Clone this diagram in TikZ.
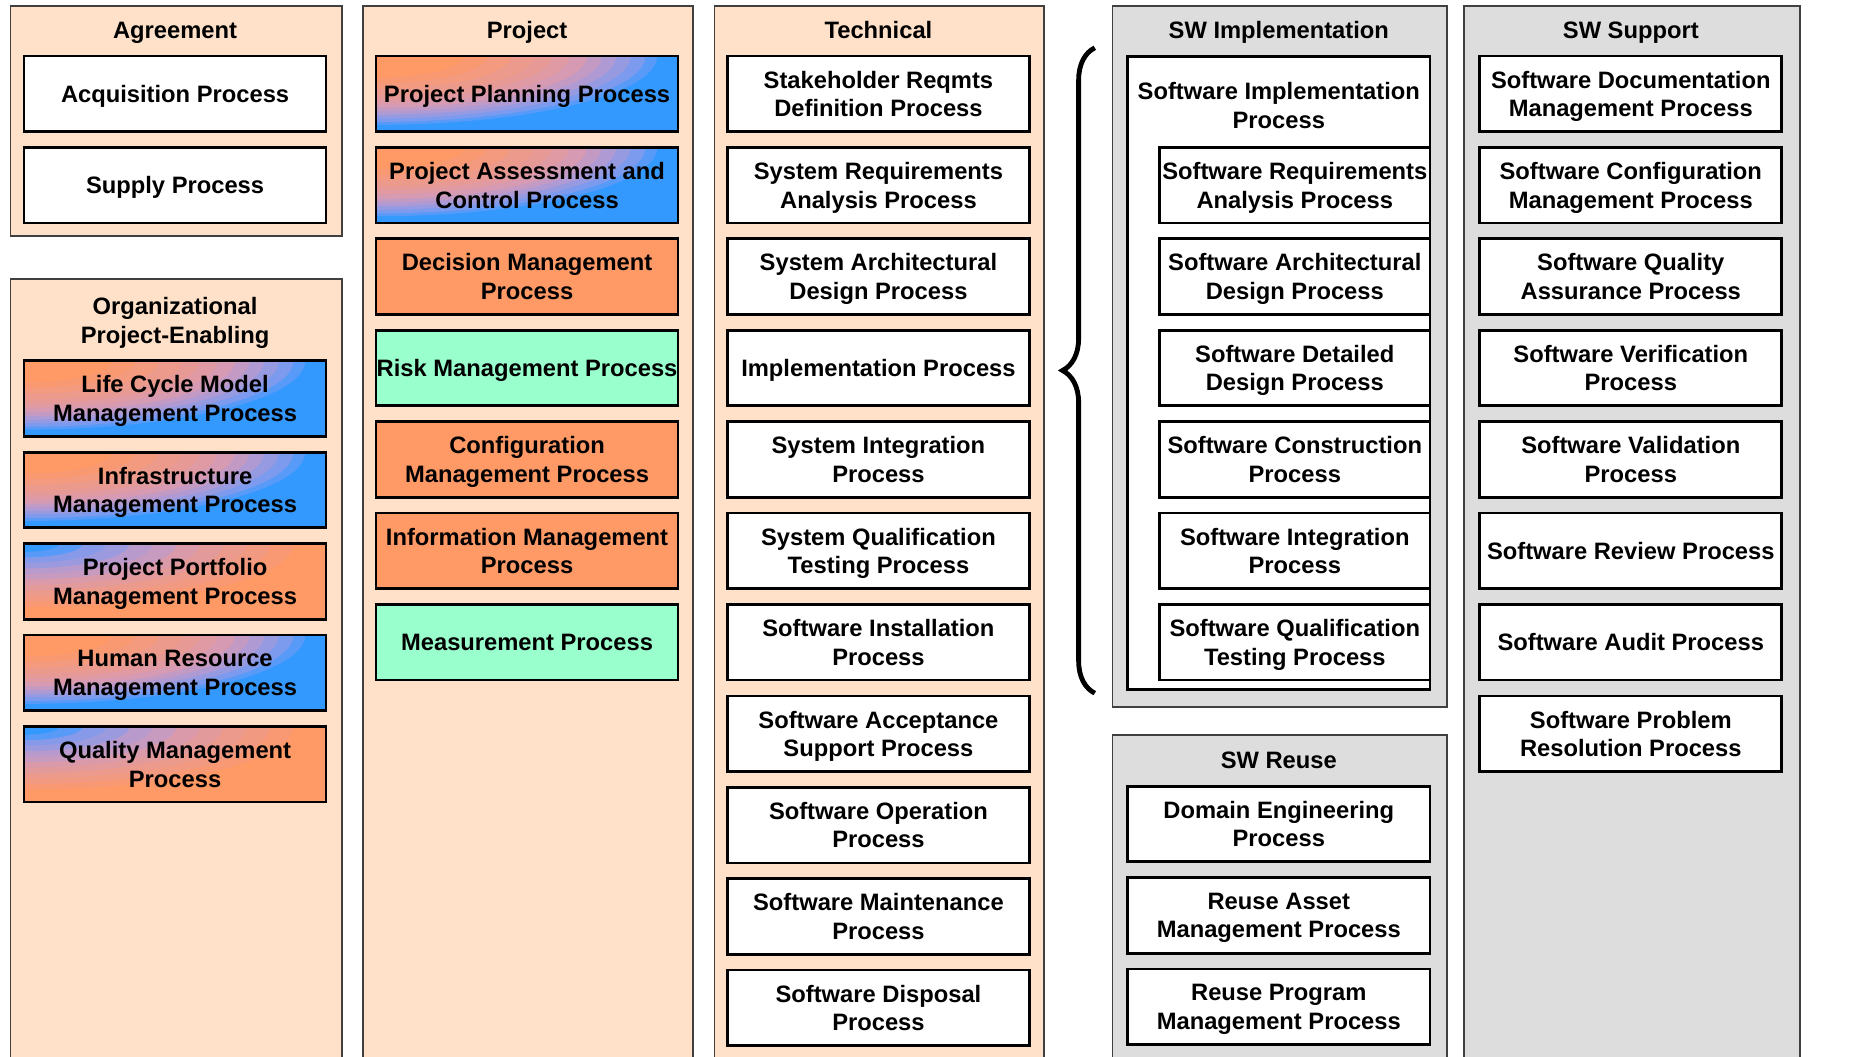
\documentclass[tikz,border=0pt]{standalone}
\usepackage{fontspec}
\setmainfont{Liberation Sans}
\usepackage{xcolor}
\usetikzlibrary{positioning,decorations.pathreplacing}
\definecolor{peach}{HTML}{FEE1C8}
\definecolor{panelgray}{HTML}{DDDDDD}
\definecolor{procorange}{HTML}{FF9966}
\definecolor{procblue}{HTML}{3399FF}
\definecolor{procgreen}{HTML}{99FFCC}
\definecolor{salmonmid}{HTML}{EC9A8C}
\definecolor{mauvemid}{HTML}{D69AB2}
\definecolor{lavmid}{HTML}{B09AD4}
\definecolor{skymid}{HTML}{7C9AEE}

\begin{document}
\begin{tikzpicture}[node distance=0.219cm,
    font=\fontsize{11.3}{13.6}\selectfont\bfseries,
    panel/.style={draw=black!75,line width=0.9pt,anchor=north west,inner sep=0pt},
    heading/.style={text depth=0pt,align=center},
    proc/.style={draw,line width=1.3pt,fill=white,minimum width=5.055cm,
      minimum height=1.265cm,inner sep=0pt,align=center,text depth=0pt},
    orangeproc/.style={proc,fill=procorange},
    greenproc/.style={proc,fill=procgreen},
    % orange in the top left corner, fading to blue
    warmcorner/.style={proc,fill=procblue,path picture={
        \foreach \r/\hue in {0.96/skymid!50!procblue,0.92/skymid,0.87/lavmid!50!skymid,
            0.82/lavmid,0.77/mauvemid!50!lavmid,0.72/mauvemid,0.66/salmonmid!40!mauvemid,
            0.60/salmonmid!75!mauvemid,0.54/salmonmid,0.46/procorange!35!salmonmid,
            0.38/procorange!70!salmonmid,0.30/procorange}
          \fill[\hue] (path picture bounding box.north west)
            ellipse [x radius={4.9cm*\r},y radius={1.2cm*\r}];}},
    % blue in the top left corner, fading to orange
    coolcorner/.style={proc,fill=procorange,path picture={
        \foreach \r/\hue in {0.92/procorange!65!salmonmid,0.84/procorange!30!salmonmid,
            0.76/salmonmid,0.68/salmonmid!60!mauvemid,0.60/salmonmid!20!mauvemid,
            0.52/mauvemid!60!lavmid,0.44/mauvemid!20!lavmid,0.36/lavmid!60!skymid,
            0.28/lavmid!20!skymid,0.20/skymid!50!procblue,0.12/procblue}
          \fill[\hue] (path picture bounding box.north west)
            ellipse [x radius={4.9cm*\r},y radius={1.15cm*\r}];}}]
  \useasboundingbox (0,0) rectangle (31.36,-17.68);
  \clip (0,0) rectangle (31.36,-17.68);

  % panels
  \node[panel,fill=peach,minimum width=5.54cm,minimum height=3.86cm] (agreeP) at (0.16,-0.08) {};
  \node[panel,fill=peach,minimum width=5.54cm,minimum height=13.14cm] (orgP) at (0.16,-4.66) {};
  \node[panel,fill=peach,minimum width=5.52cm,minimum height=17.72cm] (projP) at (6.06,-0.08) {};
  \node[panel,fill=peach,minimum width=5.52cm,minimum height=17.72cm] (techP) at (11.94,-0.08) {};
  \node[panel,fill=panelgray,minimum width=5.6cm,minimum height=11.74cm] (implP) at (18.60,-0.08) {};
  \node[panel,fill=panelgray,minimum width=5.6cm,minimum height=5.52cm] (reuseP) at (18.60,-12.28) {};
  \node[panel,fill=panelgray,minimum width=5.62cm,minimum height=17.72cm] (suppP) at (24.48,-0.08) {};

  % titles
  \node[heading] (agreeT) at (2.93,-0.5) {Agreement};
  \node[heading] (orgT) at (2.93,-5.36) {Organizational\\Project-Enabling};
  \node[heading] (projT) at (8.82,-0.5) {Project};
  \node[heading] (techT) at (14.70,-0.5) {Technical};
  \node[heading] (implT) at (21.40,-0.5) {SW Implementation};
  \node[heading] (reuseT) at (21.40,-12.72) {SW Reuse};
  \node[heading] (suppT) at (27.29,-0.5) {SW Support};

  % agreement
  \node[proc] (acq) at (2.93,-1.57) {Acquisition Process};
  \node[proc,below=of acq] (supply) {Supply Process};

  % organizational project-enabling
  \node[warmcorner] (lifeCycle) at (2.93,-6.67) {Life Cycle Model\\Management Process};
  \node[warmcorner,below=of lifeCycle] (infra) {Infrastructure\\Management Process};
  \node[coolcorner,below=of infra] (portfolio) {Project Portfolio\\Management Process};
  \node[warmcorner,below=of portfolio] (human) {Human Resource\\Management Process};
  \node[coolcorner,below=of human] (quality) {Quality Management\\Process};

  % project
  \node[warmcorner] (planning) at (8.82,-1.57) {Project Planning Process};
  \node[warmcorner,below=of planning] (assess) {Project Assessment and\\Control Process};
  \node[orangeproc,below=of assess] (decision) {Decision Management\\Process};
  \node[greenproc,below=of decision] (risk) {Risk Management Process};
  \node[orangeproc,below=of risk] (config) {Configuration\\Management Process};
  \node[orangeproc,below=of config] (info) {Information Management\\Process};
  \node[greenproc,below=of info] (measure) {Measurement Process};

  % technical
  \node[proc] (stakeholder) at (14.70,-1.57) {Stakeholder Reqmts\\Definition Process};
  \node[proc,below=of stakeholder] (sysReq) {System Requirements\\Analysis Process};
  \node[proc,below=of sysReq] (sysArch) {System Architectural\\Design Process};
  \node[proc,below=of sysArch] (implem) {Implementation Process};
  \node[proc,below=of implem] (sysInteg) {System Integration\\Process};
  \node[proc,below=of sysInteg] (sysQual) {System Qualification\\Testing Process};
  \node[proc,below=of sysQual] (install) {Software Installation\\Process};
  \node[proc,below=of install] (accept) {Software Acceptance\\Support Process};
  \node[proc,below=of accept] (operation) {Software Operation\\Process};
  \node[proc,below=of operation] (maint) {Software Maintenance\\Process};
  \node[proc,below=of maint] (disposal) {Software Disposal\\Process};

  % sw implementation
  \node[proc,minimum height=10.6cm] (implBox) at (21.40,-6.24) {};
  \node[heading] (implText) at (21.40,-1.76) {Software Implementation\\Process};
  \node[proc,minimum width=4.52cm,anchor=east] (swReq) at (implBox.east |- 0,-3.10) {Software Requirements\\Analysis Process};
  \node[proc,minimum width=4.52cm,below=of swReq] (swArch) {Software Architectural\\Design Process};
  \node[proc,minimum width=4.52cm,below=of swArch] (swDetail) {Software Detailed\\Design Process};
  \node[proc,minimum width=4.52cm,below=of swDetail] (swConstr) {Software Construction\\Process};
  \node[proc,minimum width=4.52cm,below=of swConstr] (swInteg) {Software Integration\\Process};
  \node[proc,minimum width=4.52cm,below=of swInteg] (swQual) {Software Qualification\\Testing Process};

  % brace
  \coordinate (braceLow) at (18.32,-11.6);
  \coordinate (braceHigh) at (18.32,-0.8);
  \draw[line width=2.3pt,decorate,decoration={brace,amplitude=0.54cm}] (braceLow) -- (braceHigh);

  % sw reuse
  \node[proc] (domain) at (21.40,-13.79) {Domain Engineering\\Process};
  \node[proc,below=of domain] (reuseAsset) {Reuse Asset\\Management Process};
  \node[proc,below=of reuseAsset] (reuseProg) {Reuse Program\\Management Process};

  % sw support
  \node[proc] (swDoc) at (27.29,-1.57) {Software Documentation\\Management Process};
  \node[proc,below=of swDoc] (swConfig) {Software Configuration\\Management Process};
  \node[proc,below=of swConfig] (swQA) {Software Quality\\Assurance Process};
  \node[proc,below=of swQA] (swVerif) {Software Verification\\Process};
  \node[proc,below=of swVerif] (swValid) {Software Validation\\Process};
  \node[proc,below=of swValid] (swReview) {Software Review Process};
  \node[proc,below=of swReview] (swAudit) {Software Audit Process};
  \node[proc,below=of swAudit] (swProblem) {Software Problem\\Resolution Process};
\end{tikzpicture}
\end{document}
